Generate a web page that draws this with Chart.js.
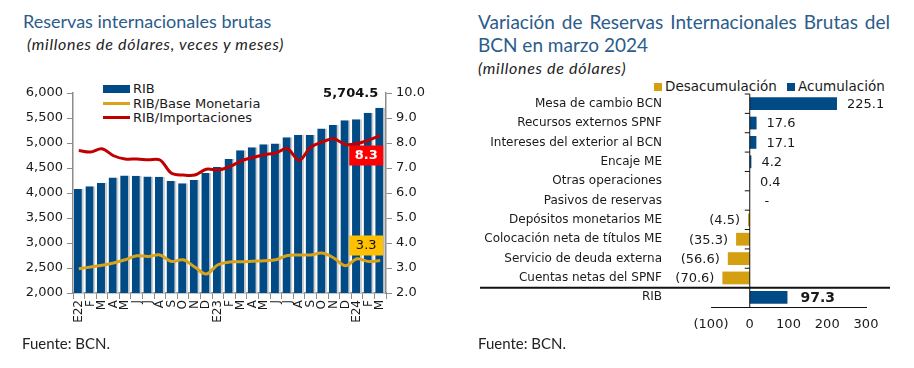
<!DOCTYPE html>
<html>
<head>
<meta charset="utf-8">
<script src="https://cdn.jsdelivr.net/npm/chart.js@4"></script>
<style>
  body { margin: 0; width: 914px; height: 368px; background: #fff; position: relative; overflow: hidden; font-family: 'DejaVu Sans', sans-serif; color: #1a1a1a; }
  .titulo { position: absolute; font-family: Lato, sans-serif; font-size: 19px; line-height: 23px; color: #2b5c8a; white-space: nowrap; }
  .sub { position: absolute; font-family: Lato, sans-serif; font-style: italic; font-size: 16px; letter-spacing: 0.7px; line-height: 18px; color: #222; white-space: nowrap; }
  .fuente { position: absolute; font-family: Lato, sans-serif; font-size: 15px; line-height: 16px; color: #222; }
  .ley { position: absolute; font-size: 13px; line-height: 15px; white-space: nowrap; }
  .mk { position: absolute; }
  canvas { position: absolute; }
</style>
</head>
<body>
<div class="titulo" style="left:23px; top:10px; font-size:18px;">Reservas internacionales brutas</div>
<div class="sub" style="left:27px; top:35px;">(millones de dólares, veces y meses)</div>

<div class="titulo" style="left:478px; top:10px; width:412px; white-space:normal; text-align:justify;">Variación de Reservas Internacionales Brutas del BCN en marzo 2024</div>
<div class="sub" style="left:478px; top:59px;">(millones de dólares)</div>

<!-- leyenda izquierda -->
<div class="mk" style="left:103px; top:85px; width:27px; height:8px; background:#004a86;"></div>
<div class="ley" style="left:133px; top:81px;">RIB</div>
<div class="mk" style="left:103px; top:102px; width:27px; height:3px; background:#d9a21b;"></div>
<div class="ley" style="left:133px; top:96px;">RIB/Base Monetaria</div>
<div class="mk" style="left:103px; top:116px; width:27px; height:3px; background:#c00000;"></div>
<div class="ley" style="left:133px; top:110px;">RIB/Importaciones</div>

<!-- leyenda derecha -->
<div class="mk" style="left:654px; top:83px; width:8px; height:8px; background:#d4a012;"></div>
<div class="ley" style="left:665px; top:79px; font-size:13.5px;">Desacumulación</div>
<div class="mk" style="left:787px; top:83px; width:8px; height:8px; background:#004a86;"></div>
<div class="ley" style="left:798px; top:79px; font-size:13.5px;">Acumulación</div>

<canvas id="c1" width="450" height="262" style="left:0; top:78px;"></canvas>
<canvas id="c2" width="430" height="262" style="left:470px; top:78px;"></canvas>

<div class="fuente" style="left:22px; top:335px;">Fuente: BCN.</div>
<div class="fuente" style="left:478px; top:335px;">Fuente: BCN.</div>

<script>
const meses = ['E22','F','M','A','M','J','J','A','S','O','N','D',
               'E23','F','M','A','M','J','J','A','S','O','N','D',
               'E24','F','M'];
// millones de dolares
const rib = [4080, 4135, 4200, 4310, 4350, 4345, 4330, 4325, 4240, 4195, 4260, 4400,
             4520, 4680, 4855, 4915, 4975, 4990, 5115, 5160, 5160, 5290, 5360, 5455,
             5475, 5605, 5704.5];
// veces
const ribBase = [2.97, 3.04, 3.11, 3.20, 3.33, 3.49, 3.46, 3.52, 3.26, 3.33, 3.04, 2.76,
                 3.13, 3.24, 3.25, 3.27, 3.29, 3.33, 3.50, 3.52, 3.52, 3.60, 3.40, 3.09,
                 3.37, 3.26, 3.30];
// meses
const ribImp = [7.70, 7.64, 7.77, 7.49, 7.36, 7.36, 7.33, 7.32, 6.79, 6.72, 6.72, 6.95,
                6.92, 7.05, 7.28, 7.42, 7.53, 7.60, 7.77, 7.30, 7.83, 8.04, 8.17, 7.94,
                7.98, 8.11, 8.30];

const conceptos = ['Mesa de cambio BCN', 'Recursos externos SPNF', 'Intereses del exterior al BCN',
                   'Encaje ME', 'Otras operaciones', 'Pasivos de reservas', 'Depósitos monetarios ME',
                   'Colocación neta de títulos ME', 'Servicio de deuda externa', 'Cuentas netas del SPNF', 'RIB'];
const variacion = [225.1, 17.6, 17.1, 4.2, 0.4, 0, -4.5, -35.3, -56.6, -70.6, 97.3];
const ticksVariacion = [-100, 0, 100, 200, 300];

const AZUL = '#004a86';
const ORO = '#d9a21b';
const ROJO = '#c00000';
const GRIS = '#8c8c8c';
const fuenteEje = { family: 'DejaVu Sans', size: 13 };

Chart.defaults.font.family = 'DejaVu Sans';
Chart.defaults.color = '#1a1a1a';

// etiquetas del ultimo dato en el grafico de la izquierda
const etiquetasIzq = {
  id: 'etiquetasIzq',
  afterDatasetsDraw(chart) {
    const ctx = chart.ctx;
    const n = meses.length - 1;
    const barra = chart.getDatasetMeta(2).data[n];
    const pImp = chart.getDatasetMeta(0).data[n];
    const pBase = chart.getDatasetMeta(1).data[n];
    ctx.save();
    ctx.font = 'bold 13px DejaVu Sans';
    ctx.fillStyle = '#111';
    ctx.textAlign = 'right';
    ctx.textBaseline = 'middle';
    ctx.fillText(rib[n].toLocaleString('en-US', { minimumFractionDigits: 1 }), barra.x - 2, barra.y - 14);

    ctx.textAlign = 'center';
    ctx.fillStyle = '#ff0000';
    ctx.fillRect(pImp.x - 31, pImp.y + 10, 34, 20);
    ctx.fillStyle = '#fff';
    ctx.fillText(ribImp[n].toFixed(1), pImp.x - 14, pImp.y + 20.5);

    ctx.fillStyle = '#ffc000';
    ctx.fillRect(pBase.x - 31, pBase.y - 25, 34, 20);
    ctx.fillStyle = '#111';
    ctx.font = '13px DejaVu Sans';
    ctx.fillText(ribBase[n].toFixed(1), pBase.x - 14, pBase.y - 14.5);
    ctx.restore();
  }
};

new Chart(document.getElementById('c1'), {
  type: 'bar',
  data: {
    labels: meses,
    datasets: [
      { type: 'line', label: 'RIB/Importaciones', data: ribImp, yAxisID: 'y1',
        borderColor: ROJO, borderWidth: 3, pointRadius: 0, tension: 0.35, order: 0 },
      { type: 'line', label: 'RIB/Base Monetaria', data: ribBase, yAxisID: 'y1',
        borderColor: ORO, borderWidth: 3, pointRadius: 0, tension: 0.35, order: 1 },
      { label: 'RIB', data: rib, yAxisID: 'y', backgroundColor: AZUL,
        borderColor: '#cdcdcd', borderWidth: { top: 0, left: 0, bottom: 0, right: 2 },
        barPercentage: 0.86, categoryPercentage: 1, order: 2 }
    ]
  },
  options: {
    responsive: false,
    animation: false,
    layout: { padding: { top: 15, left: 0, right: 0, bottom: 0 } },
    plugins: { legend: { display: false }, tooltip: { enabled: false } },
    scales: {
      x: {
        grid: { display: true, drawOnChartArea: false, color: GRIS, tickLength: 6, offset: true },
        border: { color: GRIS, width: 1.5 },
        ticks: { autoSkip: false, maxRotation: 90, minRotation: 90, padding: 1, font: { size: 12 } },
        afterFit: s => { s.height = 47; }
      },
      y: {
        position: 'left', min: 2000, max: 6000,
        grid: { display: true, drawOnChartArea: false, color: GRIS, tickLength: 6 },
        border: { color: GRIS, width: 1.5 },
        ticks: { stepSize: 500, padding: 4, font: fuenteEje, callback: v => v.toLocaleString('en-US') },
        afterFit: s => { s.width = 73; }
      },
      y1: {
        position: 'right', min: 2, max: 10,
        grid: { display: true, drawOnChartArea: false, color: GRIS, tickLength: 6 },
        border: { color: GRIS, width: 1.5 },
        ticks: { stepSize: 1, padding: 4, font: fuenteEje, callback: v => v.toFixed(1) },
        afterFit: s => { s.width = 64; }
      }
    }
  },
  plugins: [etiquetasIzq]
});

// eje del cero, separador y etiquetas de valores
const etiquetasDer = {
  id: 'etiquetasDer',
  afterDatasetsDraw(chart) {
    const { ctx, chartArea, scales: { x, y } } = chart;
    const x0 = x.getPixelForValue(0);
    ctx.save();
    ctx.strokeStyle = '#111';
    ctx.lineWidth = 1;
    ctx.beginPath();
    ctx.moveTo(x0, chartArea.top);
    ctx.lineTo(x0, chartArea.bottom);
    for (let i = 0; i < conceptos.length; i++) {
      const yb = (i === 0) ? chartArea.top : (y.getPixelForValue(i - 1) + y.getPixelForValue(i)) / 2;
      ctx.moveTo(x0 - 5, yb);
      ctx.lineTo(x0, yb);
    }
    ctx.stroke();

    // linea que separa el total
    const ysep = (y.getPixelForValue(conceptos.length - 2) + y.getPixelForValue(conceptos.length - 1)) / 2;
    ctx.lineWidth = 2;
    ctx.beginPath();
    ctx.moveTo(chartArea.left - 231, ysep);
    ctx.lineTo(chartArea.right + 24, ysep);
    ctx.stroke();

    ctx.textBaseline = 'middle';
    ctx.fillStyle = '#1a1a1a';
    variacion.forEach((v, i) => {
      const yc = y.getPixelForValue(i) + 1;
      const xe = x.getPixelForValue(v);
      const total = i === conceptos.length - 1;
      ctx.font = (total ? 'bold 14px' : '13px') + ' DejaVu Sans';
      if (v > 0) {
        ctx.textAlign = 'left';
        ctx.fillText(v.toFixed(1), xe + (total ? 13 : 10), yc);
      } else if (v < 0) {
        ctx.textAlign = 'right';
        ctx.fillText('(' + Math.abs(v).toFixed(1) + ')', xe - 8, yc);
      } else {
        ctx.textAlign = 'center';
        ctx.fillText('-', x0 + 17, yc);
      }
    });
    ctx.restore();
  }
};

new Chart(document.getElementById('c2'), {
  type: 'bar',
  data: {
    labels: conceptos,
    datasets: [
      { label: 'Desacumulación', data: variacion.map(v => v < 0 ? v : null),
        backgroundColor: '#d4a012', barPercentage: 0.66, categoryPercentage: 1 },
      { label: 'Acumulación', data: variacion.map(v => v > 0 ? v : null),
        backgroundColor: AZUL, barPercentage: 0.66, categoryPercentage: 1 }
    ]
  },
  options: {
    indexAxis: 'y',
    responsive: false,
    animation: false,
    layout: { padding: { top: 16, left: 0, right: 34, bottom: 0 } },
    plugins: { legend: { display: false }, tooltip: { enabled: false } },
    scales: {
      x: {
        stacked: true,
        min: ticksVariacion[0], max: ticksVariacion[ticksVariacion.length - 1],
        afterBuildTicks: s => { s.ticks = ticksVariacion.map(v => ({ value: v })); },
        grid: { display: false, drawTicks: false },
        border: { color: '#111', width: 1 },
        ticks: { padding: 10, maxRotation: 0, minRotation: 0, font: fuenteEje,
                 callback: v => v < 0 ? '(' + Math.abs(v) + ')' : String(v) },
        afterFit: s => { s.height = 33; s.paddingLeft = 0; s.paddingRight = 0; }
      },
      y: {
        stacked: true,
        grid: { display: false, drawTicks: false },
        border: { display: false },
        ticks: { padding: 49, autoSkip: false, font: { size: 12 } },
        afterFit: s => { s.width = 241; s.paddingTop = 0; s.paddingBottom = 0; }
      }
    }
  },
  plugins: [etiquetasDer]
});
</script>
</body>
</html>
